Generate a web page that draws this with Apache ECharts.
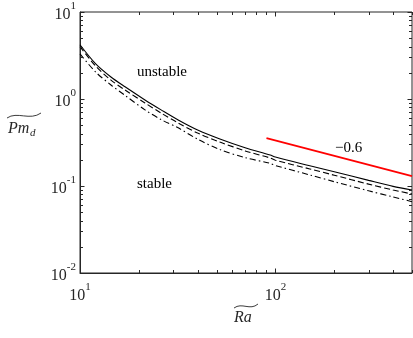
<!DOCTYPE html>
<html><head><meta charset="utf-8">
<script src="https://cdn.jsdelivr.net/npm/echarts@6/dist/echarts.min.js"></script>
<style>html,body{margin:0;padding:0;background:#fff}#c{width:413px;height:338px}</style>
</head><body><div id="c"></div>
<script>
const raValues = [10, 12, 14.4, 17, 21.5, 26, 31.8, 40, 52, 70, 94, 100, 150, 200, 300, 400, 500];
const solidValues = [4.2, 2.55, 1.79, 1.38, 0.975, 0.75, 0.574, 0.44, 0.347, 0.275, 0.227, 0.215, 0.171, 0.146, 0.116, 0.099, 0.09];
const dashedValues = [4.0, 2.4, 1.65, 1.27, 0.9, 0.69, 0.53, 0.406, 0.32, 0.253, 0.21, 0.198, 0.157, 0.133, 0.105, 0.09, 0.081];
const dashDotValues = [3.3, 2.05, 1.45, 1.1, 0.75, 0.58, 0.466, 0.345, 0.262, 0.212, 0.182, 0.172, 0.134, 0.112, 0.088, 0.075, 0.066];
const slopeX = [90, 500];
const slopeY = [0.356, 0.13];
const xTickLabels = [10, 100];
const yTickLabels = [0.01, 0.1, 1, 10];

const FONT = 'Liberation Serif';
const AX = '#262626';
const pair = (xs, ys) => xs.map((x, i) => [x, ys[i]]);

const xTicks = [], yTicks = [];
[10, 100].forEach(d => { for (let k = 1; k <= 9; k++) { const v = d * k; if (v >= 10 && v <= 500) xTicks.push({v: v, major: k === 1}); } });
[0.01, 0.1, 1].forEach(d => { for (let k = 1; k <= 9; k++) yTicks.push({v: d * k, major: k === 1}); });
yTicks.push({v: 10, major: true});

function sup(v) {
  const e = Math.round(Math.log10(v));
  return '{b|10}{s|' + e + '}';
}

const chart = echarts.init(document.getElementById('c'), null, {renderer: 'canvas'});
const richStyle = {
  b: {fontFamily: FONT, fontSize: 16, color: '#262626', verticalAlign: 'bottom', lineHeight: 22},
  s: {fontFamily: FONT, fontSize: 11, color: '#262626', verticalAlign: 'top', lineHeight: 22}
};
const GL = 80, GT = 12, GR = 1, GB = 65, W = 413, H = 338;
const baseGraphic = [
  {type: 'text', left: 137, top: 65, style: {text: 'unstable', font: '15px "Liberation Serif"', fill: '#000'}},
  {type: 'text', left: 137, top: 177, style: {text: 'stable', font: '15px "Liberation Serif"', fill: '#000'}},
  {type: 'text', left: 335, top: 141, style: {text: '\u22120.6', font: '15px "Liberation Serif"', fill: '#000'}},
  {type: 'text', left: 234, top: 310, style: {text: 'Ra', font: 'italic 16px "Liberation Serif"', fill: '#262626'}},
  {type: 'bezierCurve', shape: {x1: 234, y1: 308, cpx1: 242, cpy1: 302, cpx2: 250, cpy2: 311, x2: 258, y2: 304}, style: {stroke: '#262626', lineWidth: 0.9, fill: null}},
  {type: 'text', left: 8, top: 121, style: {text: 'Pm', font: 'italic 16px "Liberation Serif"', fill: '#262626'}},
  {type: 'text', left: 30, top: 128, style: {text: 'd', font: 'italic 11px "Liberation Serif"', fill: '#262626'}},
  {type: 'bezierCurve', shape: {x1: 7, y1: 118, cpx1: 17, cpy1: 111, cpx2: 30, cpy2: 121, x2: 41, y2: 113}, style: {stroke: '#262626', lineWidth: 0.9, fill: null}}
];
chart.setOption({
  animation: false,
  grid: {left: GL, right: GR, top: GT, bottom: GB, show: true, borderColor: AX, borderWidth: 1, backgroundColor: 'transparent'},
  xAxis: {
    type: 'log', logBase: 10, min: 10, max: 500,
    axisLine: {show: true, lineStyle: {color: AX, width: 1}},
    axisTick: {show: false}, splitLine: {show: false}, minorTick: {show: false},
    axisLabel: {
      showMaxLabel: false, margin: 9, color: '#262626',
      formatter: v => (xTickLabels.some(t => Math.abs(t - v) / t < 1e-6) ? sup(v) : ''),
      rich: richStyle
    }
  },
  yAxis: {
    type: 'log', logBase: 10, min: 0.01, max: 10,
    axisLine: {show: true, lineStyle: {color: AX, width: 1}},
    axisTick: {show: false}, splitLine: {show: false},
    axisLabel: {
      margin: 4, color: '#262626',
      formatter: v => (yTickLabels.some(t => Math.abs(t - v) / t < 1e-6) ? sup(v) : ''),
      rich: richStyle
    }
  },
  series: [
    {type: 'line', data: pair(raValues, solidValues), showSymbol: false, smooth: 0.3, lineStyle: {color: '#000', width: 1.1, type: 'solid'}, z: 3},
    {type: 'line', data: pair(raValues, dashedValues), showSymbol: false, smooth: 0.3, lineStyle: {color: '#000', width: 1.1, type: [6, 3]}, z: 3},
    {type: 'line', data: pair(raValues, dashDotValues), showSymbol: false, smooth: 0.3, lineStyle: {color: '#000', width: 1.1, type: [6, 3, 1.5, 3]}, z: 3},
    {type: 'line', data: pair(slopeX, slopeY), showSymbol: false, lineStyle: {color: '#ff0000', width: 1.8}, z: 4}
  ],
  graphic: baseGraphic
});

// mirrored inward ticks on all four sides, positioned through the axis scales
const gLeft = GL, gRight = W - GR, gTop = GT, gBottom = H - GB;
const tickEls = [];
const tst = {stroke: AX, lineWidth: 1};
xTicks.forEach(t => {
  const px = Math.round(chart.convertToPixel({xAxisIndex: 0}, t.v)) + 0.5;
  const len = t.major ? 4.5 : 3;
  tickEls.push({type: 'line', z: 10, shape: {x1: px, y1: gBottom, x2: px, y2: gBottom - len}, style: tst});
  tickEls.push({type: 'line', z: 10, shape: {x1: px, y1: gTop, x2: px, y2: gTop + len}, style: tst});
});
yTicks.forEach(t => {
  const py = Math.round(chart.convertToPixel({yAxisIndex: 0}, t.v)) + 0.5;
  const len = t.major ? 4.5 : 3;
  tickEls.push({type: 'line', z: 10, shape: {x1: gLeft, y1: py, x2: gLeft + len, y2: py}, style: tst});
  tickEls.push({type: 'line', z: 10, shape: {x1: gRight, y1: py, x2: gRight - len, y2: py}, style: tst});
});
chart.setOption({graphic: baseGraphic.concat(tickEls)});
</script></body></html>
